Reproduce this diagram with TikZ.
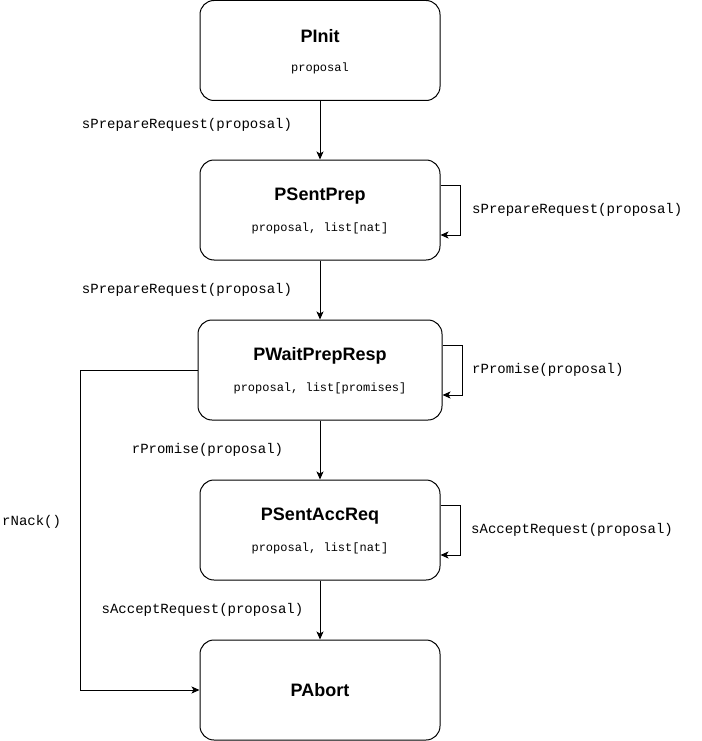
\documentclass[tikz,border=0pt]{standalone}
\usepackage{fontspec}
\setmainfont{Liberation Sans}
\setmonofont{Liberation Mono}
\usetikzlibrary{arrows.meta}
\begin{document}
\begin{tikzpicture}[x=1pt,y=-1pt,
  statebox/.style={draw=black,line width=1pt,rounded corners=14pt,minimum width=240pt,minimum height=100pt,inner sep=0pt,fill=white},
  title/.style={font=\fontsize{18}{20}\selectfont\bfseries,inner sep=0pt},
  sub/.style={font=\fontsize{12}{14}\selectfont\ttfamily,inner sep=0pt},
  elabel/.style={font=\fontsize{14}{16}\selectfont\ttfamily,inner sep=0pt},
  conn/.style={draw=black,line width=1pt,-{Stealth[length=8pt,width=7pt,inset=2pt]}}]
\useasboundingbox (0,0) rectangle (701,741);
% states
\node[statebox] (init) at (320,50.5) {};
\node[title] (initT) at (320,36) {PInit};
\node[sub] (initS) at (320,68) {proposal};

\node[statebox] (prep) at (320,210) {};
\node[title] (prepT) at (320,196) {PSentPrep};
\node[sub] (prepS) at (320,228) {proposal, list[nat]};

\node[statebox,minimum width=244pt] (wait) at (320,370) {};
\node[title] (waitT) at (320,356) {PWaitPrepResp};
\node[sub] (waitS) at (320,388) {proposal, list[promises]};

\node[statebox] (acc) at (320,530) {};
\node[title] (accT) at (320,516) {PSentAccReq};
\node[sub] (accS) at (320,548) {proposal, list[nat]};

\node[statebox] (abort) at (320,690) {};
\node[title] (abortT) at (320,690) {PAbort};

% vertical transitions
\draw[conn] (init) -- (prep);
\draw[conn] (prep) -- (wait);
\draw[conn] (wait) -- (acc);
\draw[conn] (acc) -- (abort);
\node[elabel] (l1) at (187,125) {sPrepareRequest(proposal)};
\node[elabel] (l2) at (187,290) {sPrepareRequest(proposal)};
\node[elabel] (l3) at (207.5,450) {rPromise(proposal)};
\node[elabel] (l4) at (202.5,610) {sAcceptRequest(proposal)};

% self loops
\draw[conn] ([yshift=25pt]prep.east) -- ++(20,0) |- ([yshift=-25pt]prep.east);
\node[elabel,anchor=west] (s1) at (472,210) {sPrepareRequest(proposal)};
\draw[conn] ([yshift=25pt]wait.east) -- ++(20,0) |- ([yshift=-25pt]wait.east);
\node[elabel,anchor=west] (s2) at (472,370) {rPromise(proposal)};
\draw[conn] ([yshift=25pt]acc.east) -- ++(20,0) |- ([yshift=-25pt]acc.east);
\node[elabel,anchor=west] (s3) at (471,530) {sAcceptRequest(proposal)};

% nack
\coordinate (nk) at (80,370);
\draw[conn] (wait.west) -- (nk) |- (abort.west);
\node[elabel,anchor=west] (nl) at (2,522) {rNack()};
\end{tikzpicture}
\end{document}
